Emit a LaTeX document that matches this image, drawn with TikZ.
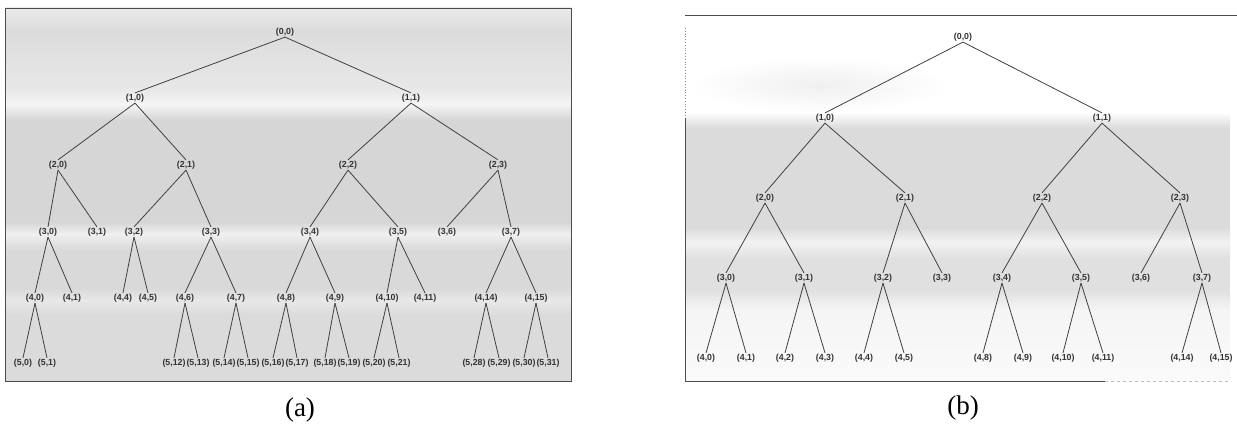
\documentclass[tikz,border=0pt]{standalone}
\usepackage{fontspec}
\setmainfont{Liberation Serif}
\newfontfamily\lblfont{Liberation Sans}
\tikzset{
  lbl/.style={font=\lblfont\bfseries\fontsize{8.8}{9}\selectfont, text=black!80, inner sep=0.8pt},
  edge/.style={draw=black!75, line width=0.8pt},
  frameline/.style={draw=black!70, line width=0.8pt},
  caption/.style={font=\fontsize{27}{30}\selectfont, inner sep=0pt},
  band/.style={shading=axis, shading angle=180}
}
\begin{document}
\begin{tikzpicture}[x=1pt,y=-1pt]
\useasboundingbox (0,0) rectangle (1237,428);

% ---------- left tree: grey scanned background ----------
\shade[band, top color=black!8,  bottom color=black!14] (5,8)   rectangle (571,30);
\shade[band, top color=black!14, bottom color=black!9]  (5,30)  rectangle (571,90);
\shade[band, top color=black!9,  bottom color=black!4]  (5,90)  rectangle (571,104);
\shade[band, top color=black!4,  bottom color=black!16] (5,104) rectangle (571,120);
\fill[black!16] (5,120) rectangle (571,222);
\shade[band, top color=black!16, bottom color=black!6]  (5,222) rectangle (571,234);
\shade[band, top color=black!6,  bottom color=black!15] (5,234) rectangle (571,250);
\fill[black!15] (5,250) rectangle (571,288);
\shade[band, top color=black!15, bottom color=black!9]  (5,288) rectangle (571,300);
\shade[band, top color=black!9,  bottom color=black!14] (5,300) rectangle (571,315);
\fill[black!14] (5,315) rectangle (571,381);
\draw[frameline] (5,8) rectangle (571,381);

% ---------- right tree: background ----------
\shade[inner color=black!6, outer color=white] (820,85) ellipse (130 and 28);
\shade[band, top color=white,    bottom color=black!14] (686,112) rectangle (1230,128);
\fill[black!14] (686,128) rectangle (1230,228);
\shade[band, top color=black!14, bottom color=black!5]  (686,228) rectangle (1230,242);
\shade[band, top color=black!5,  bottom color=black!12] (686,242) rectangle (1230,258);
\fill[black!12] (686,258) rectangle (1230,290);
\shade[band, top color=black!12, bottom color=black!4]  (686,290) rectangle (1230,310);
\shade[band, top color=black!4,  bottom color=black!2]  (686,310) rectangle (1230,380);
\draw[frameline] (685,15) -- (1237,15);
\draw[frameline, black!45, dotted] (685,28) -- (685,118);
\draw[frameline] (685,118) -- (685,381) -- (1105,381);
\draw[frameline, black!25, dashed] (1105,381) -- (1230,381);

% ---------- left tree: nodes ----------
\foreach \l/\y in {0/32,1/98,2/165,3/232,4/298,5/363}{
  \expandafter\xdef\csname ya\l\endcsname{\y}}
\foreach \l/\i/\x in {0/0/285,
    1/0/135, 1/1/411,
    2/0/58, 2/1/186, 2/2/348, 2/3/498,
    3/0/48, 3/1/97, 3/2/134, 3/3/211, 3/4/310, 3/5/398, 3/6/447, 3/7/511,
    4/0/35, 4/1/72, 4/4/123, 4/5/148, 4/6/185, 4/7/236, 4/8/286, 4/9/335,
    4/10/387, 4/11/425, 4/14/486, 4/15/536,
    5/0/23, 5/1/47, 5/12/174, 5/13/198, 5/14/224, 5/15/248, 5/16/273, 5/17/297,
    5/18/325, 5/19/349, 5/20/374, 5/21/399, 5/28/474, 5/29/499, 5/30/524, 5/31/548}{
  \node[lbl] (a-\l-\i) at (\x,\csname ya\l\endcsname) {(\l,\i)};
}
\foreach \p/\c in {0-0/1-0, 0-0/1-1,
    1-0/2-0, 1-0/2-1, 1-1/2-2, 1-1/2-3,
    2-0/3-0, 2-0/3-1, 2-1/3-2, 2-1/3-3, 2-2/3-4, 2-2/3-5, 2-3/3-6, 2-3/3-7,
    3-0/4-0, 3-0/4-1, 3-2/4-4, 3-2/4-5, 3-3/4-6, 3-3/4-7, 3-4/4-8, 3-4/4-9,
    3-5/4-10, 3-5/4-11, 3-7/4-14, 3-7/4-15,
    4-0/5-0, 4-0/5-1, 4-6/5-12, 4-6/5-13, 4-7/5-14, 4-7/5-15, 4-8/5-16, 4-8/5-17,
    4-9/5-18, 4-9/5-19, 4-10/5-20, 4-10/5-21, 4-14/5-28, 4-14/5-29, 4-15/5-30, 4-15/5-31}{
  \draw[edge] (a-\p.south) -- (a-\c.north);
}

% ---------- right tree: nodes ----------
\foreach \l/\y in {0/37,1/118,2/198,3/278,4/358}{
  \expandafter\xdef\csname yb\l\endcsname{\y}}
\foreach \l/\i/\x in {0/0/963,
    1/0/825, 1/1/1102,
    2/0/765, 2/1/905, 2/2/1042, 2/3/1180,
    3/0/726, 3/1/804, 3/2/883, 3/3/942, 3/4/1002, 3/5/1081, 3/6/1141, 3/7/1202,
    4/0/706, 4/1/746, 4/2/785, 4/3/825, 4/4/864, 4/5/904,
    4/8/983, 4/9/1023, 4/10/1063, 4/11/1103, 4/14/1182, 4/15/1221}{
  \node[lbl] (b-\l-\i) at (\x,\csname yb\l\endcsname) {(\l,\i)};
}
\foreach \p/\c in {0-0/1-0, 0-0/1-1,
    1-0/2-0, 1-0/2-1, 1-1/2-2, 1-1/2-3,
    2-0/3-0, 2-0/3-1, 2-1/3-2, 2-1/3-3, 2-2/3-4, 2-2/3-5, 2-3/3-6, 2-3/3-7,
    3-0/4-0, 3-0/4-1, 3-1/4-2, 3-1/4-3, 3-2/4-4, 3-2/4-5,
    3-4/4-8, 3-4/4-9, 3-5/4-10, 3-5/4-11, 3-7/4-14, 3-7/4-15}{
  \draw[edge] (b-\p.south) -- (b-\c.north);
}

% ---------- captions ----------
\node[caption] (capa) at (300,410) {(a)};
\node[caption] (capb) at (963,408) {(b)};
\end{tikzpicture}
\end{document}
